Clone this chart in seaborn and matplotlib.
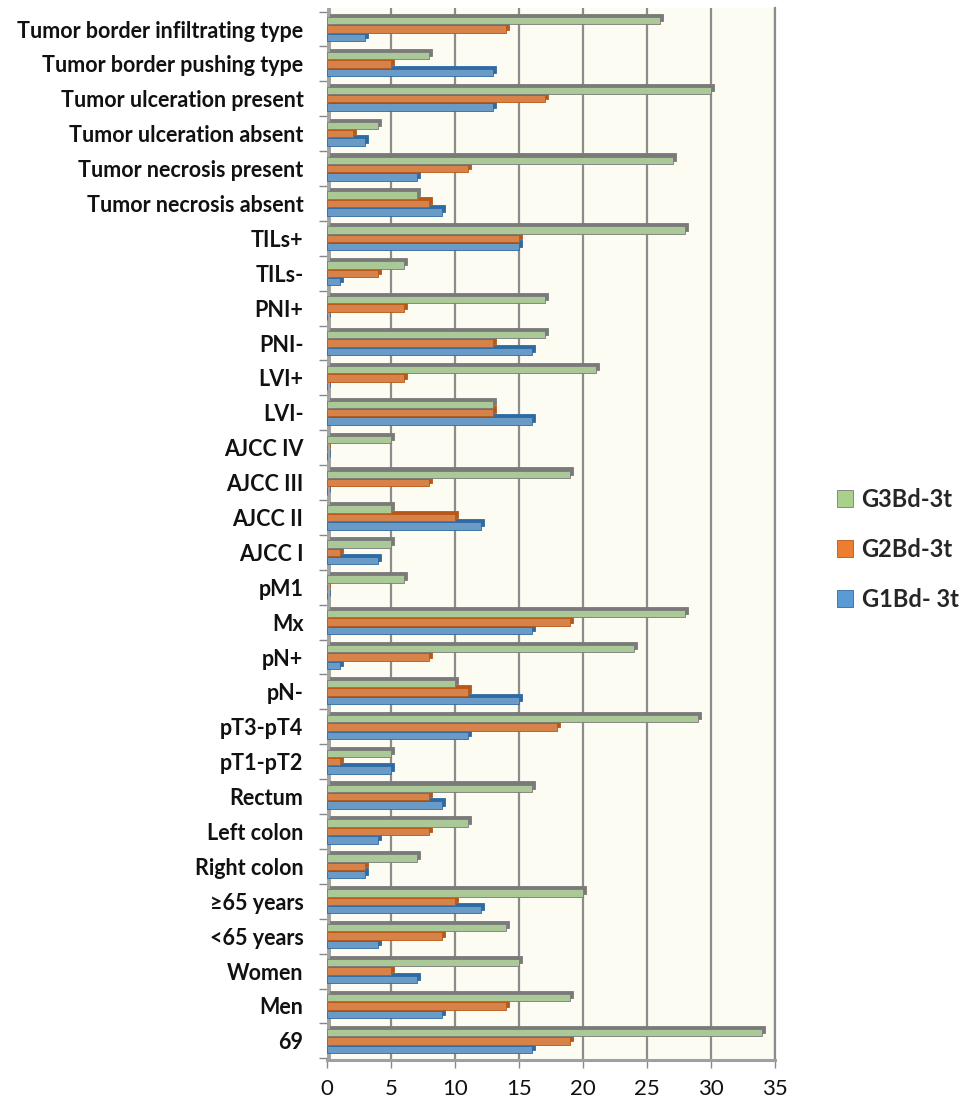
import matplotlib
matplotlib.use("Agg")
import matplotlib.pyplot as plt
from matplotlib.patches import Rectangle, Patch
from matplotlib.transforms import ScaledTranslation
import pandas as pd
import seaborn as sns

# Categories listed top to bottom
categories = [
    "Tumor border infiltrating type", "Tumor border pushing type",
    "Tumor ulceration present", "Tumor ulceration absent",
    "Tumor necrosis present", "Tumor necrosis absent",
    "TILs+", "TILs-", "PNI+", "PNI-", "LVI+", "LVI-",
    "AJCC IV", "AJCC III", "AJCC II", "AJCC I",
    "pM1", "Mx", "pN+", "pN-", "pT3-pT4", "pT1-pT2",
    "Rectum", "Left colon", "Right colon",
    "\u226565 years", "<65 years", "Women", "Men", "69",
]
g3 = [26, 8, 30, 4, 27, 7, 28, 6, 17, 17, 21, 13, 5, 19, 5, 5, 6, 28, 24, 10,
      29, 5, 16, 11, 7, 20, 14, 15, 19, 34]
g2 = [14, 5, 17, 2, 11, 8, 15, 4, 6, 13, 6, 13, 0, 8, 10, 1, 0, 19, 8, 11,
      18, 1, 8, 8, 3, 10, 9, 5, 14, 19]
g1 = [3, 13, 13, 3, 7, 9, 15, 1, 0, 16, 0, 16, 0, 0, 12, 4, 0, 16, 1, 15,
      11, 5, 9, 4, 3, 12, 4, 7, 9, 16]
series_names = ["G3Bd-3t", "G2Bd-3t", "G1Bd- 3t"]
x_ticks = [0, 5, 10, 15, 20, 25, 30, 35]

face_colors = {"G3Bd-3t": "#A9D18E", "G2Bd-3t": "#ED7D31", "G1Bd- 3t": "#5B9BD5"}
depth_colors = {"G3Bd-3t": "#7A7A7A", "G2Bd-3t": "#B85716", "G1Bd- 3t": "#2F6AA3"}

df = pd.DataFrame({
    "category": categories * 3,
    "series": [s for s in series_names for _ in categories],
    "value": g3 + g2 + g1,
})

sns.set_theme(style="white")
plt.rcParams["font.family"] = ["Lato", "DejaVu Sans"]

fig = plt.figure(figsize=(9.64, 11.05), dpi=100)
ax = fig.add_axes([0.3392, 0.0407, 0.4647, 0.952])
ax.set_facecolor("#FCFCF2")

sns.barplot(data=df, y="category", x="value", hue="series", order=categories,
            hue_order=series_names, palette=face_colors, width=0.72, gap=0.12,
            orient="h", legend=False, ax=ax, zorder=3)

# Give every bar a depth face (top and end): a darker copy shifted up-right
depth_shift = ax.transData + ScaledTranslation(2.2 / 72, 2.2 / 72,
                                               fig.dpi_scale_trans)
for cont, name in zip(ax.containers, series_names):
    for bar in cont:
        bar.set_edgecolor(depth_colors[name])
        bar.set_linewidth(0.6)
        back = Rectangle(bar.get_xy(), bar.get_width(), bar.get_height(),
                         facecolor=depth_colors[name],
                         edgecolor=depth_colors[name], lw=0.6,
                         transform=depth_shift, zorder=2.9)
        ax.add_patch(back)

ax.set_xlim(0, 35)
ax.set_ylim(len(categories) - 1 + 0.55, -0.6)
ax.set_xticks(x_ticks)
ax.set_xticklabels([str(t) for t in x_ticks], fontsize=16)
ax.set_yticks(range(len(categories)))
ax.set_yticklabels(categories, fontsize=15.5, fontweight="bold")
ax.set_yticks([i - 0.5 for i in range(len(categories) + 1)], minor=True)
ax.set_xlabel("")
ax.set_ylabel("")

label_drop = ScaledTranslation(0, -4 / 100, fig.dpi_scale_trans)
for lab in ax.get_yticklabels():
    lab.set_transform(lab.get_transform() + label_drop)

ax.set_axisbelow(True)
ax.grid(axis="x", color="#8C8C8C", lw=1.6)
ax.grid(axis="y", visible=False)
ax.axvline(0, color="#A3A3A3", lw=5, zorder=2)

for side in ["top", "left"]:
    ax.spines[side].set_visible(False)
ax.spines["right"].set_color("#8C8C8C")
ax.spines["right"].set_linewidth(1.6)
ax.spines["bottom"].set_color("#A0A0A0")
ax.spines["bottom"].set_linewidth(2.2)

ax.tick_params(axis="y", which="major", length=0, pad=17, colors="#111111")
ax.tick_params(axis="y", which="minor", left=True, length=6, width=1,
               color="#888888")
ax.tick_params(axis="x", which="major", bottom=True, length=6, width=1,
               color="#888888", pad=8, labelcolor="#111111")

handles = [Patch(facecolor=face_colors[n], edgecolor=depth_colors[n], lw=0.6)
           for n in series_names]
fig.legend(handles, series_names, loc="center left",
           bbox_to_anchor=(0.846, 0.503), frameon=False,
           prop={"weight": "bold", "size": 17}, handlelength=0.7,
           handleheight=0.7, handletextpad=0.35, labelspacing=1.15)

fig.savefig("out.png", dpi=100, facecolor="white")
